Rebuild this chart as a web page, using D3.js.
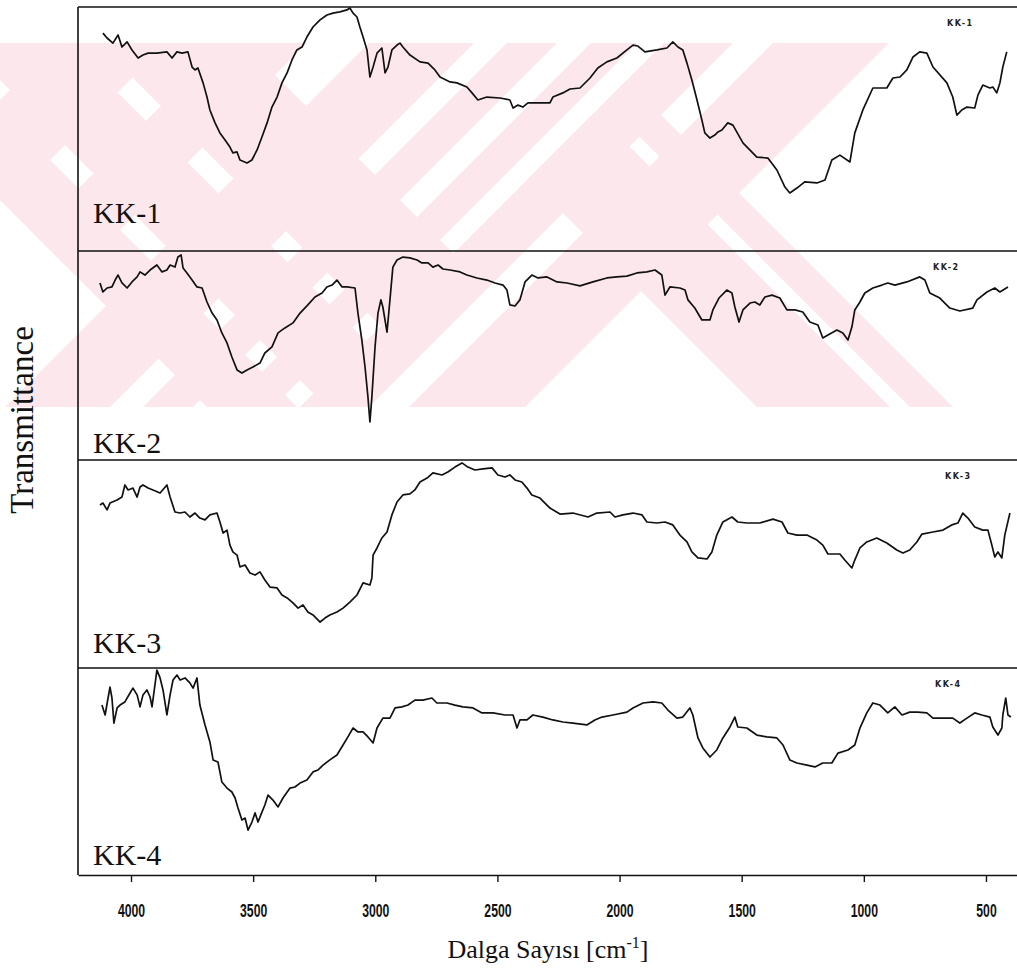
<!DOCTYPE html>
<html>
<head>
<meta charset="utf-8">
<script src="https://cdn.jsdelivr.net/npm/d3@7/dist/d3.min.js"></script>
<style>
body { margin: 0; background: #fff; }
svg { display: block; }
</style>
</head>
<body>
<div class="ir-chart-container"></div>
<script>
// etiketler ve eksen degerleri
const sampleNames = ['KK-1', 'KK-2', 'KK-3', 'KK-4'];
const xTickValues = [4000, 3500, 3000, 2500, 2000, 1500, 1000, 500];
const xTitle = 'Dalga Sayısı [cm';
const yTitle = 'Transmittance';

// spektrumlar: [dalga sayisi cm-1, bagil gecirgenlik %] (her panel kendi 0-100 olceginde)
const kk1 = [[4115,89.3],[4098,87.3],[4074,85.2],[4053,88.5],[4037,83.6],[4016,85.7],[3996,82.4],[3971,79.1],[3951,80.3],[3930,81.1],[3894,81.1],[3853,81.6],[3832,79.1],[3812,81.6],[3791,81.1],[3767,81.6],[3750,75.4],[3738,74.2],[3726,75.0],[3705,68.9],[3689,63.1],[3677,57.8],[3656,52.5],[3636,48.4],[3615,45.5],[3595,42.6],[3583,40.2],[3566,40.6],[3554,37.3],[3525,36.1],[3505,37.3],[3484,41.4],[3464,46.7],[3443,52.5],[3423,59.0],[3402,63.1],[3382,68.9],[3361,73.0],[3341,78.3],[3321,82.4],[3300,83.6],[3280,87.7],[3255,91.8],[3226,94.7],[3198,96.7],[3173,97.5],[3145,98.0],[3116,98.8],[3104,99.6],[3091,97.5],[3075,95.9],[3063,91.8],[3050,87.7],[3034,82.4],[3022,71.3],[3009,75.4],[2993,81.1],[2973,83.2],[2960,73.0],[2948,75.4],[2932,82.4],[2911,84.4],[2899,85.2],[2887,83.6],[2858,80.3],[2817,77.5],[2784,77.0],[2756,74.2],[2735,71.3],[2694,69.3],[2666,68.9],[2625,67.2],[2604,64.8],[2580,61.9],[2543,63.1],[2490,62.7],[2449,61.9],[2436,58.6],[2416,59.8],[2396,59.0],[2375,60.7],[2326,60.7],[2285,60.7],[2273,63.1],[2232,64.8],[2203,66.4],[2162,66.8],[2121,70.9],[2089,75.0],[2052,77.5],[2011,79.1],[1970,82.4],[1945,84.4],[1925,84.0],[1896,81.6],[1847,82.4],[1806,83.2],[1782,85.7],[1761,83.6],[1741,82.4],[1724,77.0],[1704,70.1],[1683,61.9],[1663,53.7],[1651,48.4],[1630,46.3],[1610,47.5],[1597,48.8],[1581,49.6],[1557,52.5],[1536,51.6],[1495,44.3],[1438,38.5],[1393,38.1],[1356,33.2],[1323,26.2],[1303,23.8],[1274,25.8],[1242,28.3],[1192,27.9],[1159,29.1],[1131,37.3],[1098,39.3],[1057,36.5],[1037,48.4],[1004,57.8],[963,66.8],[906,66.8],[881,70.9],[852,71.3],[824,74.2],[799,79.5],[771,81.6],[742,81.1],[717,75.4],[660,68.9],[636,63.1],[619,55.7],[599,57.8],[578,59.0],[546,58.6],[533,63.9],[513,68.0],[484,66.8],[472,67.2],[456,64.8],[443,68.9],[431,75.4],[415,81.6]];

const kk2 = [[4127,84.7],[4115,80.4],[4098,82.3],[4078,82.8],[4065,86.1],[4053,88.5],[4037,84.7],[4016,82.3],[3996,85.2],[3975,87.6],[3963,90.0],[3943,88.5],[3922,90.9],[3894,93.3],[3873,90.0],[3853,90.9],[3840,93.3],[3820,92.3],[3808,97.1],[3795,98.1],[3787,91.9],[3771,89.5],[3750,86.1],[3730,82.8],[3709,82.3],[3689,75.6],[3668,70.3],[3648,67.0],[3628,60.8],[3607,56.0],[3587,49.3],[3566,43.1],[3546,41.6],[3525,43.1],[3501,44.5],[3472,46.4],[3452,51.2],[3423,54.1],[3398,60.8],[3370,63.2],[3337,65.6],[3308,70.3],[3276,74.2],[3247,78.0],[3218,79.9],[3198,82.8],[3177,83.7],[3157,86.1],[3136,82.8],[3116,82.8],[3083,82.3],[3071,70.3],[3055,57.4],[3042,44.5],[3030,30.1],[3022,18.2],[3014,30.1],[3001,54.1],[2989,70.3],[2977,76.6],[2969,73.2],[2952,61.2],[2940,76.6],[2928,92.3],[2911,95.7],[2887,97.1],[2858,96.7],[2829,95.7],[2809,94.3],[2784,94.3],[2764,92.3],[2743,93.3],[2723,91.4],[2694,90.9],[2653,90.0],[2625,88.5],[2584,87.1],[2543,86.1],[2510,84.7],[2477,83.7],[2461,81.3],[2449,74.2],[2428,73.7],[2408,76.6],[2387,85.2],[2359,88.5],[2334,87.1],[2297,87.6],[2256,85.2],[2215,84.7],[2162,83.3],[2109,85.2],[2052,87.1],[2011,87.6],[1970,88.0],[1929,89.5],[1888,90.0],[1855,90.9],[1827,88.5],[1814,78.9],[1794,82.8],[1753,82.3],[1732,81.3],[1720,76.6],[1692,72.7],[1663,67.0],[1630,67.0],[1618,71.8],[1593,77.5],[1561,81.3],[1540,79.9],[1528,73.2],[1511,66.0],[1495,71.8],[1466,75.1],[1446,75.6],[1426,74.2],[1405,78.0],[1376,78.9],[1344,77.5],[1315,71.8],[1282,71.8],[1250,70.8],[1221,66.0],[1188,64.6],[1168,58.4],[1147,59.8],[1110,62.2],[1086,60.8],[1065,57.4],[1049,63.6],[1037,71.8],[1016,75.6],[996,79.9],[963,82.3],[926,83.7],[902,84.7],[873,83.7],[824,85.2],[771,87.6],[750,86.1],[730,79.9],[689,77.5],[648,72.7],[607,71.3],[554,72.7],[537,76.6],[496,80.4],[464,82.3],[443,80.4],[410,82.8]];

const kk3 = [[4127,78.4],[4115,79.3],[4098,76.0],[4086,79.3],[4057,80.8],[4037,82.2],[4025,88.0],[4012,85.6],[3992,86.5],[3975,82.2],[3963,87.0],[3951,88.0],[3930,86.5],[3910,85.6],[3881,84.1],[3853,88.0],[3840,82.2],[3820,75.0],[3799,74.5],[3779,75.0],[3759,72.6],[3738,74.5],[3718,72.1],[3697,71.2],[3677,73.6],[3648,74.5],[3636,70.2],[3623,64.9],[3607,66.3],[3595,59.1],[3583,55.8],[3566,54.3],[3554,48.6],[3533,49.5],[3513,45.7],[3492,44.7],[3472,46.2],[3452,42.3],[3431,38.9],[3402,38.5],[3382,35.1],[3361,33.7],[3337,31.3],[3316,28.8],[3296,30.3],[3276,26.9],[3255,25.5],[3226,22.1],[3206,24.0],[3186,25.5],[3157,26.9],[3132,28.8],[3104,31.7],[3075,35.1],[3050,40.9],[3022,39.9],[3014,43.3],[3009,54.3],[2993,57.7],[2973,62.5],[2952,65.4],[2932,73.6],[2911,79.8],[2887,83.2],[2858,83.7],[2838,85.6],[2817,89.4],[2788,91.3],[2764,93.8],[2727,92.8],[2703,94.2],[2674,96.6],[2645,98.6],[2621,96.6],[2592,95.2],[2559,95.7],[2522,96.2],[2498,92.8],[2469,91.8],[2449,92.8],[2428,90.4],[2400,89.4],[2379,86.5],[2359,83.2],[2326,81.7],[2285,76.9],[2244,74.0],[2191,74.5],[2129,72.6],[2093,74.5],[2039,75.0],[2019,72.6],[1986,73.6],[1945,74.5],[1908,73.6],[1888,70.2],[1847,69.7],[1814,70.2],[1782,68.8],[1753,63.9],[1724,60.6],[1704,55.8],[1679,52.9],[1642,52.4],[1622,55.8],[1602,63.9],[1577,70.2],[1540,72.6],[1516,70.2],[1479,69.7],[1426,69.7],[1372,71.6],[1335,70.2],[1311,64.9],[1274,63.9],[1233,63.9],[1192,61.5],[1168,59.1],[1147,54.8],[1098,54.8],[1078,51.9],[1049,48.1],[1037,51.9],[1016,57.7],[988,60.6],[947,62.5],[906,60.1],[865,56.7],[840,55.3],[812,56.7],[783,60.6],[762,64.4],[717,65.4],[676,66.3],[640,68.8],[615,69.7],[595,74.5],[574,72.1],[546,67.8],[513,66.3],[492,66.3],[476,59.1],[464,53.4],[451,55.8],[435,52.9],[423,63.9],[402,74.5]];

const kk4 = [[4119,82.1],[4106,77.3],[4094,85.5],[4086,90.8],[4078,85.5],[4070,73.4],[4057,80.7],[4045,82.1],[4025,83.6],[4004,87.9],[3992,90.3],[3975,87.0],[3963,81.2],[3951,87.0],[3935,89.4],[3922,86.0],[3914,81.2],[3902,91.8],[3894,99.0],[3881,95.2],[3869,89.4],[3853,77.3],[3840,87.0],[3828,94.2],[3812,96.6],[3799,94.2],[3779,95.2],[3759,92.8],[3746,90.3],[3730,95.2],[3718,82.1],[3697,72.5],[3677,64.3],[3664,55.6],[3644,54.6],[3628,44.9],[3607,42.0],[3587,40.1],[3574,37.2],[3562,32.4],[3546,26.6],[3533,27.5],[3521,21.7],[3505,25.6],[3492,30.0],[3480,25.6],[3464,30.4],[3452,33.8],[3439,38.6],[3419,36.2],[3398,32.9],[3378,37.2],[3349,42.0],[3329,42.5],[3308,44.4],[3280,45.9],[3255,49.8],[3235,50.7],[3214,53.1],[3186,55.6],[3157,58.0],[3132,62.8],[3112,66.7],[3091,71.0],[3071,69.1],[3050,69.1],[3030,66.7],[3009,63.8],[2993,71.0],[2969,75.8],[2940,75.8],[2919,80.7],[2891,81.2],[2866,82.1],[2838,84.5],[2805,84.5],[2768,85.5],[2748,83.1],[2707,83.1],[2674,82.1],[2641,81.2],[2600,80.7],[2563,78.3],[2518,78.3],[2469,77.3],[2436,77.3],[2420,71.0],[2408,74.9],[2379,74.9],[2355,77.3],[2314,76.3],[2273,74.9],[2232,73.9],[2191,73.4],[2134,72.5],[2101,74.9],[2072,76.3],[2027,77.3],[1970,78.7],[1945,80.7],[1904,83.1],[1863,83.6],[1827,83.1],[1802,79.7],[1765,75.8],[1741,76.3],[1712,80.7],[1700,77.3],[1679,66.2],[1659,61.4],[1630,57.0],[1602,60.4],[1577,66.2],[1548,71.5],[1528,76.3],[1516,71.5],[1479,71.0],[1438,67.6],[1397,66.7],[1356,66.2],[1331,62.8],[1303,55.6],[1274,54.1],[1233,53.1],[1200,52.2],[1168,54.1],[1131,54.1],[1106,58.9],[1065,60.4],[1037,62.8],[1016,71.0],[988,78.3],[963,83.1],[934,82.1],[902,78.3],[873,81.2],[844,77.3],[812,78.7],[779,78.7],[742,78.3],[717,75.8],[676,75.8],[636,75.8],[607,73.4],[578,75.8],[546,78.3],[517,77.3],[484,76.3],[472,71.5],[451,67.6],[435,71.0],[431,77.3],[419,85.5],[410,77.3],[398,76.3]];

const spectra = [kk1, kk2, kk3, kk4];

// arka plandaki soluk pembe filigran: 45 derecelik seritler
// s = x + y ("/" seritleri), d = x - y ("\" seritleri), piksel cinsinden
function drawWatermark(svg) {
    const pink = '#fce8ec';
    svg.append('defs').append('clipPath').attr('id', 'wm-clip')
        .append('rect').attr('x', 0).attr('y', 43).attr('width', 1017).attr('height', 364);
    const g = svg.append('g').attr('class', 'watermark').attr('clip-path', 'url(#wm-clip)');
    const toXY = (s, d) => [(s + d) / 2, (s - d) / 2];
    const band = (s1, s2, d1, d2) => [toXY(s1, d1), toXY(s2, d1), toXY(s2, d2), toXY(s1, d2)]
        .map(p => p.join(',')).join(' ');
    const big = 4000;
    const add = pts => g.append('polygon').attr('points', pts).style('fill', pink);

    // "/" seritler
    [[100, 210], [267, 350]].forEach(([s1, s2]) => add(band(s1, s2, -200, 320)));
    [[412, 517], [550, 600], [634, 680], [707, 776], [816, 932]].forEach(([s1, s2]) => add(band(s1, s2, -big, big)));
    // "\" sol kol
    [[-200, -110], [-80, 25], [55, 200]].forEach(([d1, d2]) => add(band(-big, 707, d1, d2)));
    // "\" sag kol
    [[350, 483], [503, 546]].forEach(([d1, d2]) => add(band(707, big, d1, d2)));
}

function setupCanvas() {
    const svg_width = 1017;
    const svg_height = 972;
    const plotLeft = 78, plotRight = 1017;
    const panelTops = [7, 251, 460, 668];
    const panelBottoms = [251, 460, 668, 875];

    const svg = d3.select('.ir-chart-container').append('svg')
        .attr('width', svg_width).attr('height', svg_height)
        .style('background', '#fff');

    drawWatermark(svg);

    // X olcegi: dalga sayisi soldan saga azalir
    const xScale = d3.scaleLinear().domain([4217, 373]).range([plotLeft, plotRight]);

    // paneller
    spectra.forEach((data, i) => {
        const yScale = d3.scaleLinear().domain([0, 100]).range([panelBottoms[i], panelTops[i]]);
        const lineGen = d3.line().x(d => xScale(d[0])).y(d => yScale(d[1]));
        svg.append('path').attr('class', 'spectrum')
            .attr('d', lineGen(data))
            .style('fill', 'none').style('stroke', '#111')
            .style('stroke-width', 1.7).style('stroke-linejoin', 'round');

        // buyuk panel etiketi
        svg.append('text')
            .attr('x', 93).attr('y', [223, 453, 653, 865][i])
            .text(sampleNames[i])
            .style('font-family', "'Liberation Serif','Times New Roman',serif")
            .style('font-size', '30px').style('fill', '#111');

        // sag ustteki kucuk etiket
        svg.append('text')
            .attr('x', [947, 933, 945, 935][i]).attr('y', panelTops[i] + 19)
            .text(sampleNames[i])
            .style('font-family', "'DejaVu Sans',sans-serif")
            .style('font-size', '8px').style('font-weight', 'bold')
            .style('letter-spacing', '1.5px').style('fill', '#222');
    });

    // cerceve cizgileri
    const frame = svg.append('g').attr('class', 'frame')
        .style('stroke', '#111').style('stroke-width', 1.6);
    panelTops.forEach(y => {
        frame.append('line').attr('x1', plotLeft).attr('x2', plotRight).attr('y1', y).attr('y2', y);
    });
    frame.append('line').attr('x1', plotLeft).attr('x2', plotLeft).attr('y1', panelTops[0]).attr('y2', 875);

    // X ekseni
    const xAxis = d3.axisBottom(xScale).tickValues(xTickValues)
        .tickSizeInner(7).tickSizeOuter(0).tickPadding(22)
        .tickFormat(d3.format('d'));
    const xAxisDraw = svg.append('g').attr('class', 'x axis')
        .attr('transform', 'translate(0,875)')
        .call(xAxis);
    xAxisDraw.select('.domain').style('stroke', '#111').style('stroke-width', 1.6);
    xAxisDraw.selectAll('.tick line').style('stroke', '#111').style('stroke-width', 1.4);
    // dar ve kalin rakamlar
    xAxisDraw.selectAll('.tick text')
        .attr('textLength', d => String(d).length * 6.8)
        .attr('lengthAdjust', 'spacingAndGlyphs')
        .style('font-family', "'Liberation Sans','Arial',sans-serif")
        .style('font-size', '18px').style('font-weight', 'bold').style('fill', '#111');

    // eksen basliklari
    const xt = svg.append('text')
        .attr('x', 548).attr('y', 958)
        .style('text-anchor', 'middle')
        .style('font-family', "'Liberation Serif','Times New Roman',serif")
        .style('font-size', '26px').style('fill', '#111');
    xt.append('tspan').text(xTitle);
    xt.append('tspan').text('-1').attr('dy', -10).style('font-size', '16px');
    xt.append('tspan').text(']').attr('dy', 10);

    svg.append('text')
        .attr('transform', 'translate(33,420) rotate(-90)')
        .style('text-anchor', 'middle')
        .style('font-family', "'Liberation Serif','Times New Roman',serif")
        .style('font-size', '33px').style('fill', '#111')
        .text(yTitle);
}

setupCanvas();
</script>
</body>
</html>
